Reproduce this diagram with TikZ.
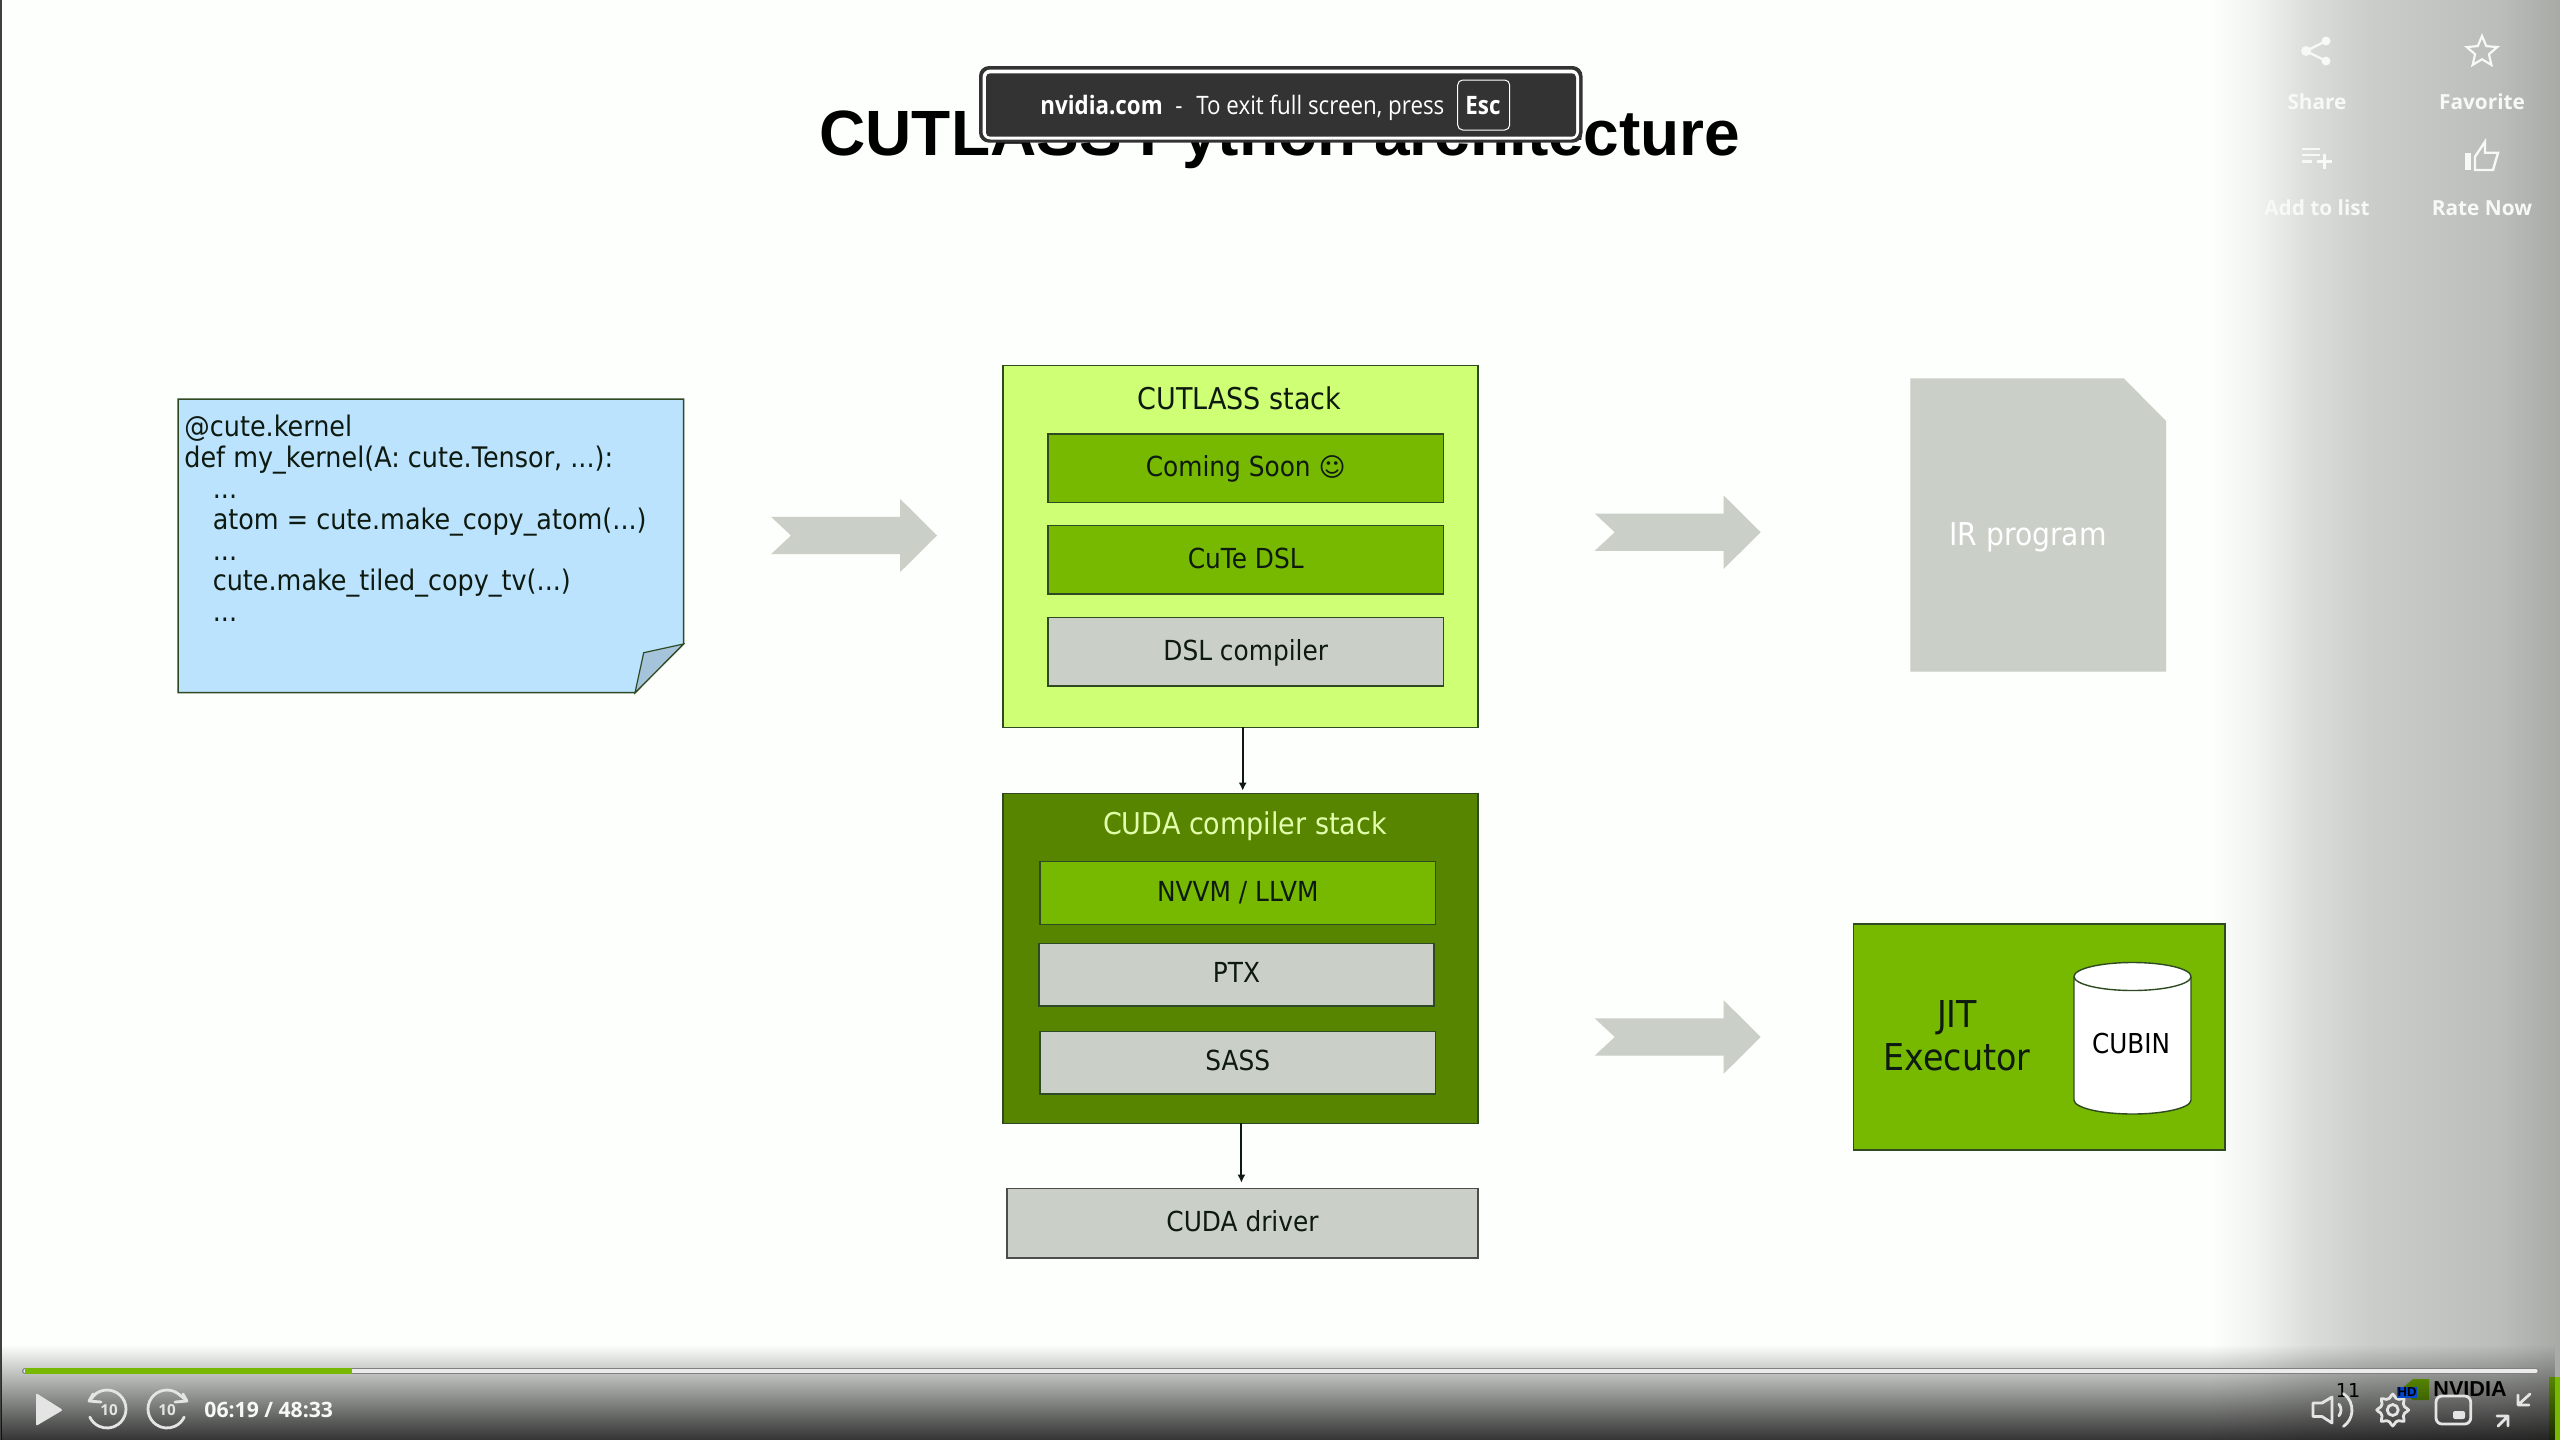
\documentclass[tikz,border=0pt]{standalone}
\usepackage{fontspec}
\setmainfont[FakeStretch=0.9]{DejaVu Sans}
\newfontfamily\symfont{DejaVu Sans}
\newfontfamily\titlefont{Liberation Sans}
\newfontfamily\uifont{Open Sans}
\newfontfamily\toastfont[FakeStretch=0.88]{Open Sans}
\usetikzlibrary{arrows.meta,shapes.geometric,fadings}
\definecolor{pagebg}{HTML}{FCFFFC}
\definecolor{lime}{HTML}{CEFF74}
\definecolor{nvgreen}{HTML}{76B900}
\definecolor{darkgreen}{HTML}{578500}
\definecolor{panelgrey}{HTML}{CACFC8}
\definecolor{noteblue}{HTML}{BBE3FD}
\definecolor{foldblue}{HTML}{A5C3DB}
\definecolor{edge}{HTML}{2F4A22}
\definecolor{inktext}{HTML}{0E1A10}
\definecolor{toastbg}{HTML}{333333}
\definecolor{uiwhite}{HTML}{F7F8F7}
\definecolor{ctrl}{HTML}{E4E4E4}
\definecolor{panela}{HTML}{F0F3EF}
\definecolor{panelmid}{HTML}{DADDD9}
\definecolor{panelb}{HTML}{CACDC9}
\definecolor{panelc}{HTML}{BBBDBA}
\definecolor{paneld}{HTML}{A8AAA6}
\pgfdeclarehorizontalshading{rightpanel}{100bp}{
 color(0bp)=(pagebg); color(29bp)=(pagebg); color(35bp)=(panela); color(42bp)=(panelmid); color(50bp)=(panelb); color(67bp)=(panelc); color(75bp)=(paneld); color(100bp)=(paneld)}
\tikzfading[name=bottomfade, top color=transparent!100, bottom color=transparent!20]
\tikzset{
 x=0.5pt,y=-0.5pt,
 boxbase/.style={rectangle,inner sep=0pt,outer sep=0pt,draw=edge,line width=0.75pt,text=inktext,text height=8.2pt,text depth=0pt,font=\fontsize{13.8}{15}\selectfont},
 limebox/.style={boxbase,fill=lime},
 greenbox/.style={boxbase,fill=nvgreen},
 darkbox/.style={boxbase,fill=darkgreen},
 greybox/.style={boxbase,fill=panelgrey},
 conn/.style={draw=inktext,line width=1pt,-{Latex[length=4pt,width=4pt]}},
 bodytext/.style={anchor=base,inner sep=0pt,text=inktext,font=\fontsize{15}{17}\selectfont},
 blockarrow/.style={fill=panelgrey,draw=none},
 uilabel/.style={anchor=base,inner sep=0pt,font=\uifont\bfseries\fontsize{10.4}{12}\selectfont},
 uiicon/.style={draw=uiwhite,line width=1.2pt,line join=miter},
 ctrlicon/.style={draw=ctrl,line width=1.4pt,line cap=round,line join=round},
}
\newcommand{\bx}[7]{\node[#6,minimum width={(#4-#2)*0.5pt},minimum height={(#5-#3)*0.5pt}] (#1) at ({(#2+#4)/2},{(#3+#5)/2}) {#7};}
\newcommand{\blockarr}[2]{\path[blockarrow,shift={(#1,#2)}] (0,-18.7)--(129,-18.7)--(129,-36.7)--(166,0)--(129,36.7)--(129,18.7)--(0,18.7)--(20,0)--cycle;}
\begin{document}
\begin{tikzpicture}
\useasboundingbox (0,0) rectangle (2560,1440);
\fill[pagebg] (0,0) rectangle (2560,1440);
\shade[shading=rightpanel] (2180,0) rectangle (2560,1440);
\fill[black!75] (0,0) rectangle (2,1440);

% slide title
\node[anchor=base,inner sep=0pt,font=\titlefont\bfseries\fontsize{32}{36}\selectfont] (title) at (1280,155) {CUTLASS Python architecture};

% code note
\path[fill=noteblue,draw=edge,line width=0.75pt] (178,399)--(683.5,399)--(683.5,644)--(635,692.7)--(178,692.7)--cycle;
\path[fill=foldblue,draw=edge,line width=0.6pt] (683.5,644)--(643.7,652.7)--(635,692.7)--cycle;
\node[anchor=north west,inner sep=0pt,align=left,text=inktext,font=\fontsize{14.15}{15.45}\selectfont] (code) at (184,414.5) {@cute.kernel\\def my\_kernel(A: cute.Tensor, ...):\\\hspace*{14.2pt}...\\\hspace*{14.2pt}atom = cute.make\_copy\_atom(...)\\\hspace*{14.2pt}...\\\hspace*{14.2pt}cute.make\_tiled\_copy\_tv(...)\\\hspace*{14.2pt}...};

% block arrows
\blockarr{771}{535.5}
\blockarr{1594.7}{532.2}
\blockarr{1594.7}{1037}

% CUTLASS stack
\bx{cutlass}{1003}{365.7}{1478}{727.3}{limebox}{}
\node[bodytext] (cutlasstitle) at (1239.5,409) {CUTLASS stack};
\bx{coming}{1048}{434}{1443.5}{502.3}{greenbox}{Coming Soon {\symfont\fontsize{13}{15}\selectfont ☺}}
\bx{cutedsl}{1048}{525.7}{1443.5}{594}{greenbox}{CuTe DSL}
\bx{dslcomp}{1048}{617.7}{1443.5}{686}{greybox}{DSL compiler}

% CUDA stack
\bx{cuda}{1003}{793.7}{1478}{1123.3}{darkbox}{}
\node[bodytext,text=lime!60!white] (cudatitle) at (1245,834.5) {CUDA compiler stack};
\bx{nvvm}{1040}{861.7}{1435.6}{924.7}{greenbox}{NVVM / LLVM}
\bx{ptx}{1039}{943.3}{1434}{1006}{greybox}{PTX}
\bx{sass}{1040}{1031.3}{1435.6}{1094}{greybox}{SASS}
\bx{driver}{1007}{1188.3}{1478}{1258}{greybox,draw=black!70}{CUDA driver}

\draw[conn,shorten >=1.5pt] ([xshift=1.1pt]cutlass.south) -- ([xshift=1.1pt]cuda.north);
\draw[conn,shorten >=2.8pt] ([xshift=0.45pt]cuda.south) -- ([xshift=-0.55pt]driver.north);

% IR program
\path[fill=panelgrey] (1910.4,378.3)--(2123.7,378.3)--(2166,421)--(2166,671.7)--(1910.4,671.7)--cycle;
\node[anchor=base,inner sep=0pt,text=white,font=\fontsize{15.7}{17}\selectfont] (irlabel) at (2028,545.3) {IR program};

% JIT executor
\bx{jit}{1853.6}{924}{2224.8}{1150}{greenbox}{}
\node[anchor=base,inner sep=0pt,align=center,text=inktext,font=\fontsize{18.5}{21.5}\selectfont] (jitlabel) at (1957,1070.7) {JIT\\Executor};
\path[fill=white,draw=edge,line width=0.7pt] (2074,976.5) -- (2074,1100) arc[x radius=58.5,y radius=14,start angle=180,end angle=0] -- (2191,976.5) arc[x radius=58.5,y radius=14,start angle=0,end angle=-180] -- cycle;
\path[draw=edge,line width=0.7pt] (2074,976.5) arc[x radius=58.5,y radius=14,start angle=180,end angle=0];
\node[anchor=base,inner sep=0pt,text=black,font=\fontsize{13.7}{15}\selectfont] (cubinlabel) at (2131,1053.5) {CUBIN};

% exit full screen toast
\fill[toastbg,rounded corners=5pt] (979,66) rectangle (1582.5,142.7);
\fill[white,rounded corners=4pt] (982.5,69.5) rectangle (1579,139.5);
\fill[toastbg,rounded corners=2pt] (986,73.3) rectangle (1576,136.7);
\node[anchor=base west,inner sep=0pt,text=white,font=\toastfont\bfseries\fontsize{12.7}{15}\selectfont] (toastsite) at (1040,114) {nvidia.com};
\node[anchor=base,inner sep=0pt,text=white,font=\toastfont\fontsize{12.7}{15}\selectfont] (toastdash) at (1179,114) {-};
\node[anchor=base west,inner sep=0pt,text=white,font=\toastfont\fontsize{12.7}{15}\selectfont] (toastmsg) at (1196,114) {To exit full screen, press};
\node[rectangle,rounded corners=2.5pt,draw=white,line width=0.5pt,inner sep=0pt,minimum width=26pt,minimum height=25pt] (esckey) at (1483.7,105) {};
\node[anchor=base,inner sep=0pt,text=white,font=\toastfont\bfseries\fontsize{12.7}{15}\selectfont] (esclabel) at (1483,114) {Esc};

% top right overlay actions
\fill[uiwhite] (2326,41) circle (4.5) (2306,51) circle (5) (2326,61) circle (4.5);
\draw[uiicon] (2326,41)--(2306,51)--(2326,61);
\node[star,star points=5,star point ratio=2.2,draw=uiwhite,line width=1.1pt,inner sep=0pt,minimum size=16pt] (staricon) at (2482,52) {};
\draw[uiicon] (2302,149)--(2320,149) (2302,155)--(2320,155) (2302,161.5)--(2312,161.5) (2317,161.5)--(2332,161.5) (2324.5,154)--(2324.5,169);
\fill[uiwhite] (2465,152.7) rectangle (2471,170);
\draw[uiicon] (2475,170)--(2475,156.7)--(2485,141.7)--(2485,152.7)--(2498,152.7)--(2493,170)--cycle;
\node[uilabel,text=uiwhite] (sharelabel) at (2317,109) {Share};
\node[uilabel,text=uiwhite] (favlabel) at (2482,109) {Favorite};
\node[uilabel,text=uiwhite] (addlabel) at (2317,215) {Add to list};
\node[uilabel,text=uiwhite] (ratelabel) at (2482,215) {Rate Now};

% slide footer under the control bar
\node[anchor=base,inner sep=0pt,text=black,font=\symfont\fontsize{9.6}{12}\selectfont] (pagenum) at (2348,1397) {11};
\fill[nvgreen] (2400,1390)--(2413,1379)--(2429,1379)--(2429,1400)--(2413,1400)--cycle;
\node[anchor=base west,inner sep=0pt,text=black,font=\titlefont\bfseries\fontsize{10.8}{12}\selectfont] (nvlogo) at (2433,1396) {NVIDIA};
\fill[nvgreen] (2549,1377) rectangle (2560,1440);

% control bar gradient
\fill[black,path fading=bottomfade] (0,1345) rectangle (2560,1440);
\fill[black!75] (0,1345) rectangle (1,1440);

% progress bar
\draw[line width=3pt,line cap=round,draw=black!50] (25,1371) -- (2536,1371);
\draw[line width=1.6pt,line cap=round,draw=black!8] (25,1371) -- (2536,1371);
\draw[line width=2.4pt,draw=white!92!black] (352,1371) -- (402,1371);
\draw[line width=2.6pt,draw=nvgreen] (25,1371) -- (352,1371);

% playback controls
\fill[ctrl,rounded corners=1pt] (36,1393)--(63,1410)--(36,1426)--cycle;
\begin{scope}[shift={(107,1409)},y=0.5pt]
 \draw[ctrlicon] (125:19) arc[start angle=125,end angle=-155,radius=19];
 \draw[ctrlicon] (125:19)--(-18,8);
 \draw[ctrlicon] (-14,15)--(-18,8)--(-6,7);
 \node[inner sep=0pt,text=ctrl,font=\uifont\bfseries\fontsize{7.6}{9}\selectfont] (backten) at (2,-1) {10};
\end{scope}
\begin{scope}[shift={(167,1409)},y=0.5pt]
 \draw[ctrlicon] (55:19) arc[start angle=55,end angle=335,radius=19];
 \draw[ctrlicon] (55:19)--(20,8);
 \draw[ctrlicon] (16,15)--(20,8)--(8,7);
 \node[inner sep=0pt,text=ctrl,font=\uifont\bfseries\fontsize{7.6}{9}\selectfont] (fwdten) at (0,-1) {10};
\end{scope}
\node[anchor=base west,inner sep=0pt,text=uiwhite,font=\uifont\bfseries\fontsize{10.6}{12}\selectfont] (timelabel) at (204,1417) {06:19 / 48:33};

% right-hand controls
\draw[ctrlicon,fill=none] (2313,1403)--(2322,1403)--(2332,1397)--(2332,1423)--(2322,1416.5)--(2313,1416.5)--cycle;
\begin{scope}[shift={(2332,1410)},y=0.5pt]
 \draw[ctrlicon] (40:9) arc[start angle=40,end angle=-40,radius=9];
 \draw[ctrlicon] (55:20) arc[start angle=55,end angle=-55,radius=20];
\end{scope}
\begin{scope}[shift={(2392.7,1410)},y=0.5pt]
 \draw[ctrlicon,smooth cycle] plot[domain=0:345,samples=24] ({(13.5+2.5*cos(8*\x))*cos(\x)},{(13.5+2.5*cos(8*\x))*sin(\x)});
 \draw[ctrlicon] (0,0) circle (5.5);
\end{scope}
\fill[blue!65!cyan!80!black] (2397,1387) rectangle (2417,1398);
\node[inner sep=0pt,text=black,font=\titlefont\bfseries\fontsize{6.5}{8}\selectfont] (hdbadge) at (2407,1392.5) {HD};
\draw[ctrlicon,rounded corners=3pt] (2436,1396) rectangle (2470.7,1424);
\fill[ctrl,rounded corners=1pt] (2453,1411) rectangle (2465,1419);
\draw[ctrlicon] (2530,1394)--(2519,1404) (2518,1395)--(2518,1405)--(2529,1405);
\draw[ctrlicon] (2498,1426)--(2508,1416) (2497,1416)--(2508,1416)--(2508,1426);
\end{tikzpicture}
\end{document}
